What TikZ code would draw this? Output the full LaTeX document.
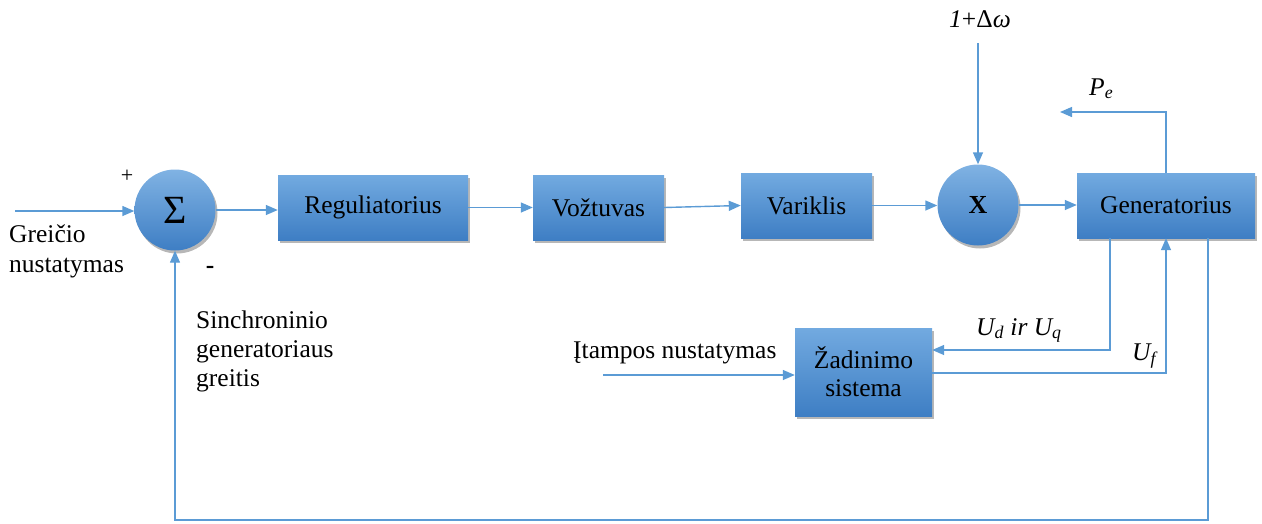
\documentclass[tikz,border=0pt]{standalone}
\usepackage{fontspec}
\setmainfont{Liberation Serif}
\newfontfamily\tnr{Liberation Serif}
\usetikzlibrary{arrows.meta,shadows,calc}
\definecolor{lineblue}{RGB}{91,155,213}
\definecolor{boxtop}{RGB}{114,170,224}
\definecolor{boxbot}{RGB}{62,126,196}
\begin{document}
\begin{tikzpicture}[x=1pt,y=-1pt,
  blk/.style={rectangle, draw=none, top color=boxtop, bottom color=boxbot,
    drop shadow={shadow xshift=2pt, shadow yshift=-3pt, opacity=0.4, fill=black!70},
    font=\tnr\fontsize{25.5}{28}\selectfont, align=center, inner sep=0pt},
  junc/.style={circle, draw=none, top color=boxtop!90!white, bottom color=boxbot,
    drop shadow={shadow xshift=2pt, shadow yshift=-3pt, opacity=0.4, fill=black!70},
    minimum size=81pt, inner sep=0pt},
  conn/.style={draw=lineblue, line width=1.4pt},
  arr/.style={conn, -{Triangle[length=12pt,width=10pt]}},
  lbl/.style={font=\tnr\fontsize{25.5}{30}\selectfont, inner sep=0pt}
]
\useasboundingbox (0,0) rectangle (1262,523);

% blocks
\node[junc] (sum) at (175,210) {\tnr\fontsize{40}{42}\selectfont Σ};
\node[blk, minimum width=190pt, minimum height=65pt] (reg) at (373,207.5) {Reguliatorius};
\node[blk, minimum width=131pt, minimum height=65pt] (voz) at (598.5,207.5) {Vožtuvas};
\node[blk, minimum width=131pt, minimum height=65pt] (var) at (806.5,205.5) {Variklis};
\node[junc] (mul) at (978,205) {\tnr\fontsize{26}{28}\selectfont\textbf{X}};
\node[blk, minimum width=178pt, minimum height=65pt] (gen) at (1166,205.5) {Generatorius};
\node[blk, minimum width=137pt, minimum height=88pt] (zad) at (863.5,372) {\tnr\fontsize{25.5}{27}\selectfont Žadinimo\\sistema};

% coordinates
\coordinate (in) at (15,211);
\coordinate (top) at (978,43);
\coordinate (pe) at (1060,112);
\coordinate (ud) at (1110,350);
\coordinate (uf) at (1166,373);
\coordinate (it) at (603,375);
\coordinate (fb) at (1208,520);

% connectors
\draw[arr] (in) -- (sum.west |- in);
\draw[arr] (sum.east) -- (reg.west |- sum.east);
\draw[arr] (reg.east) -- (voz.west);
\draw[arr] (voz.east) -- (var.west);
\draw[arr] (var.east) -- (mul.west |- var.east);
\draw[arr] (mul.east) -- (gen.west |- mul.east);
\draw[arr] (top) -- (mul.north);
\draw[arr] (gen.north -| uf) |- (pe);
\draw[arr] (gen.south -| ud) -- (ud) -- (zad.east |- ud);
\draw[arr] (zad.east |- uf) -- (uf) -- (gen.south -| uf);
\draw[arr] (it) -- (zad.west |- it);
\draw[arr] (gen.south -| fb) -- (fb) -| (sum.south);

% labels
\node[lbl, anchor=base] (plus) at (127,182) {\fontsize{22}{24}\selectfont +};
\node[lbl, anchor=base] (minus) at (210,273) {\textbf{-}};
\node[lbl, anchor=base west, align=left] (gr) at (9,272) {Greičio\\nustatymas};
\node[lbl, anchor=base west, align=left, font=\tnr\fontsize{25.5}{29}\selectfont] (sg) at (196,386) {Sinchroninio\\generatoriaus\\greitis};
\node[lbl, anchor=base west] (itl) at (573,358) {Įtampos nustatymas};
\node[lbl, anchor=base west] (udl) at (976,335) {\itshape U\textsubscript{d} ir U\textsubscript{q}};
\node[lbl, anchor=base west] (ufl) at (1132,360) {\itshape U\textsubscript{f}};
\node[lbl, anchor=base west] (pel) at (1089,95) {\itshape P\textsubscript{e}};
\node[lbl, anchor=base] (wl) at (980,27) {\textit{1}+Δ\textit{ω}};
\end{tikzpicture}
\end{document}
